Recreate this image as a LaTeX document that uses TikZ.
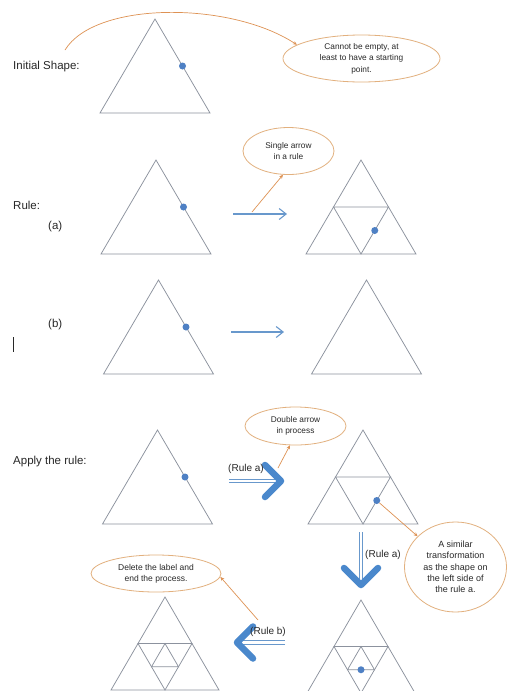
\documentclass[tikz,border=0pt]{standalone}
\usepackage{fontspec}
\setmainfont{Liberation Sans}
\usetikzlibrary{shapes.geometric,arrows.meta,calc}

\definecolor{trigray}{RGB}{140,146,158}
\definecolor{dotblue}{RGB}{78,128,196}
\definecolor{arrblue}{RGB}{104,152,204}
\definecolor{chevblue}{RGB}{74,136,204}
\definecolor{callorange}{RGB}{222,146,84}
\definecolor{bubbleline}{RGB}{226,176,126}
\definecolor{labelgray}{RGB}{40,40,40}

% outline triangle: prefix, centre x, top y, half width, height
\newcommand{\sktri}[5]{%
  \coordinate (#1t) at (#2,#3);
  \coordinate (#1l) at (#2-#4,#3+#5);
  \coordinate (#1r) at (#2+#4,#3+#5);
  \draw[tri] (#1t) -- (#1l) -- (#1r) -- cycle;}
% join the edge midpoints of a triangle: prefix, three corners
\newcommand{\sksplit}[4]{%
  \coordinate (#1L) at ($(#2)!0.5!(#3)$);
  \coordinate (#1R) at ($(#2)!0.5!(#4)$);
  \coordinate (#1B) at ($(#3)!0.5!(#4)$);
  \draw[tri] (#1L) -- (#1R) -- (#1B) -- cycle;}

\tikzset{
  tri/.style={draw=trigray, line width=0.75pt, line join=miter},
  dot/.style={circle, fill=dotblue, inner sep=0pt, minimum size=7pt},
  lbl/.style={anchor=west, inner sep=0pt, text=labelgray, font=\fontsize{11.5}{13}\selectfont},
  rulelbl/.style={anchor=west, inner sep=0pt, text=labelgray, font=\fontsize{10}{12}\selectfont},
  bubble/.style={ellipse, draw=bubbleline, line width=0.8pt, inner sep=0pt},
  btext/.style={align=center, inner sep=0pt, text=labelgray},
  callout/.style={draw=callorange, line width=0.7pt, -{Stealth[length=4pt,width=3.5pt]}},
  rulearrow/.style={draw=arrblue, line width=1.1pt, -{Straight Barb[length=7pt,width=11pt]}},
  twin/.style={draw=arrblue, line width=0.9pt, double=white, double distance=2.4pt},
  chev/.style={draw=chevblue, line width=6.5pt, line cap=round, line join=round},
}

\begin{document}
\begin{tikzpicture}[x=1pt,y=-1pt]
\useasboundingbox[fill=white] (0,0) rectangle (507,691);
\clip (0,0) rectangle (507,691);

% ---------- row labels ----------
\node[lbl] (lInit) at (13,67) {Initial Shape:};
\node[lbl] (lRule) at (13,205) {Rule:};
\node[lbl] (lA) at (48,227) {(a)};
\node[lbl] (lB) at (48,325) {(b)};
\node[lbl] (lApply) at (13,462) {Apply the rule:};
\coordinate (cur1) at (13.5,337);
\coordinate (cur2) at (13.5,352);
\draw[labelgray, line width=0.7pt] (cur1) -- (cur2);

% ---------- initial shape ----------
\sktri{A}{155}{19}{55}{94}
\node[dot] (Adot) at ($(At)!0.5!(Ar)$) {};

\node[bubble, minimum width=157pt, minimum height=47pt] (init) at (361.5,58.5) {};
\node[btext, font=\fontsize{8.3}{11.5}\selectfont] (initT) at (init)
  {Cannot be empty, at\\least to have a starting\\point.};
\coordinate (s1) at (65,50);
\draw[callout] (s1) .. controls (95,1) and (230,1) .. (init.168);

% ---------- rule (a) ----------
\sktri{B}{156}{160}{55}{94}
\node[dot] (Bdot) at ($(Bt)!0.5!(Br)$) {};
\sktri{C}{361}{160}{55}{94}
\sksplit{Cm}{Ct}{Cl}{Cr}
\node[dot] (Cdot) at ($(CmR)!0.5!(CmB)$) {};

\coordinate (ra1) at (233,214);
\coordinate (ra2) at (287,214);
\draw[rulearrow] (ra1) -- (ra2);

\node[bubble, minimum width=91pt, minimum height=47pt] (single) at (288.5,151) {};
\node[btext, font=\fontsize{8.3}{10.5}\selectfont] (singleT) at (single)
  {Single arrow\\in a rule};
\coordinate (s2) at (252,212);
\draw[callout] (s2) -- (single.257);

% ---------- rule (b) ----------
\sktri{D}{158.5}{280}{55}{94}
\node[dot] (Ddot) at ($(Dt)!0.5!(Dr)$) {};
\sktri{E}{366.5}{280}{55}{94}

\coordinate (rb1) at (231,332);
\coordinate (rb2) at (284,332);
\draw[rulearrow] (rb1) -- (rb2);

% ---------- applying the rules ----------
\sktri{F}{157.5}{430}{55}{94}
\node[dot] (Fdot) at ($(Ft)!0.5!(Fr)$) {};
\sktri{G}{363}{430}{55}{94}
\sksplit{Gm}{Gt}{Gl}{Gr}
\node[dot] (Gdot) at ($(GmR)!0.5!(GmB)$) {};

% the last two shapes run past the lower edge
\sktri{H}{165}{597}{54}{93}
\sksplit{Hm}{Ht}{Hl}{Hr}
\sksplit{Hn}{HmB}{HmL}{HmR}

\sktri{K}{361}{600}{54}{93}
\sksplit{Km}{Kt}{Kl}{Kr}
\sksplit{Kn}{KmB}{KmL}{KmR}
\node[dot] (Kdot) at ($(KnL)!0.5!(KnR)$) {};

% double arrow to the right: rule a
\coordinate (p1) at (229,481);
\coordinate (p2) at (279,481);
\coordinate (p3) at (281,481);
\draw[twin] (p1) -- (p2);
\draw[chev] ($(p3)+(-16,-16)$) -- (p3) -- ($(p3)+(-16,16)$);
\node[rulelbl] (pl) at (228,469) {(Rule a)};

% double arrow downwards: rule a
\coordinate (q1) at (361,532);
\coordinate (q2) at (361,582);
\coordinate (q3) at (361,585);
\draw[twin] (q1) -- (q2);
\draw[chev] ($(q3)+(-17,-17)$) -- (q3) -- ($(q3)+(17,-17)$);
\node[rulelbl] (ql) at (365,555) {(Rule a)};

% double arrow to the left: rule b
\coordinate (r1) at (285,642.5);
\coordinate (r2) at (239,642.5);
\coordinate (r3) at (237,642.5);
\draw[twin] (r1) -- (r2);
\draw[chev] ($(r3)+(16,-16)$) -- (r3) -- ($(r3)+(16,16)$);
\node[rulelbl] (rl) at (250,632) {(Rule b)};

% notes
\node[bubble, minimum width=101pt, minimum height=38pt] (double) at (295.5,426) {};
\node[btext, font=\fontsize{8.3}{11}\selectfont] (doubleT) at (double)
  {Double arrow\\in process};
\coordinate (s6) at (278,468);
\draw[callout] (s6) -- (double.254);

\node[bubble, minimum width=102pt, minimum height=90pt] (similar) at (455.5,567) {};
\node[btext, font=\fontsize{9}{11.3}\selectfont] (similarT) at (similar)
  {A similar\\transformation\\as the shape on\\the left side of\\the rule a.};
\draw[callout] (Gdot) -- (similar.141);

\node[bubble, minimum width=130pt, minimum height=37pt] (delete) at (156,573.5) {};
\node[btext, font=\fontsize{8.5}{11}\selectfont] (deleteT) at (delete)
  {Delete the label and\\end the process.};
\coordinate (s8) at (258,620);
\draw[callout] (s8) -- (delete.-3);

\end{tikzpicture}
\end{document}
